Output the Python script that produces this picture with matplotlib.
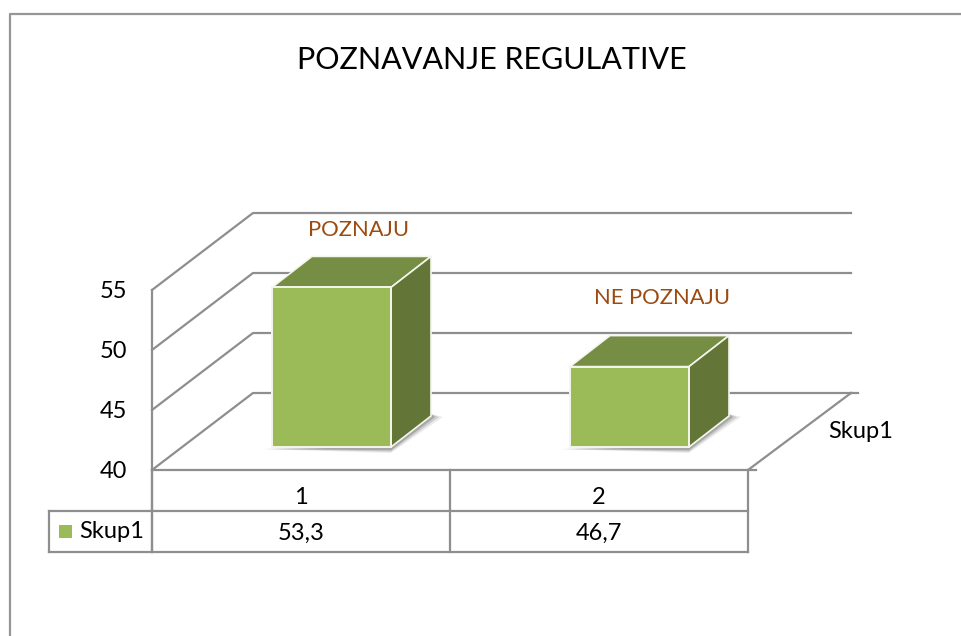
import matplotlib
matplotlib.use("Agg")
import matplotlib.pyplot as plt
from matplotlib.patches import Polygon

plt.rcParams['font.family'] = ['Lato', 'DejaVu Sans']

# data
title = "POZNAVANJE REGULATIVE"
categories = ["1", "2"]
values = [53.3, 46.7]
value_labels = ["53,3", "46,7"]
point_labels = ["POZNAJU", "NE POZNAJU"]
series_name = "Skup1"
y_ticks = [40, 45, 50, 55]

LINE = "#8e8e8e"
FRONT = "#9bbb59"
TOP = "#768d44"
SIDE = "#647637"
LABEL = "#9c4a0f"

# layout in pixels
x0, x1 = 152, 748
y_base = 470
px_per_unit = 12
floor_dx, floor_dy = 101, -77
bar_dx, bar_dy = 40, -31
bar_w = 119
bar_base = 447
table_top, table_bot = 511, 552
legend_left = 49
label_shift = [(27, -57), (33, -69)]
FS = 17


def val_y(v, base=y_base):
    return base - (v - y_ticks[0]) * px_per_unit


fig = plt.figure(figsize=(9.61, 6.36), dpi=100)
ax = fig.add_axes([0, 0, 1, 1])
ax.set_xlim(0, 961)
ax.set_ylim(636, 0)
ax.axis("off")

# outer frame
ax.plot([10, 10, 961], [636, 14, 14], color="#969696", lw=1.6, zorder=1)

ax.text(492, 60, title, ha="center", va="center", fontsize=22, color="black")

# walls and gridlines
back_x = x0 + floor_dx
for t in y_ticks:
    y = val_y(t)
    ax.plot([x0, back_x, back_x + 598], [y, y + floor_dy, y + floor_dy], color=LINE, lw=1.6, zorder=1)
    ax.text(127, y + 2, str(t), ha="right", va="center", fontsize=FS)
ax.plot([x0, x0], [val_y(y_ticks[-1]), table_bot], color=LINE, lw=1.6, zorder=1)

# floor
ax.plot([x0, x1 + 8], [y_base, y_base], color=LINE, lw=1.6, zorder=1)
ax.plot([x1, x1 + floor_dx + 2], [y_base, y_base + floor_dy], color=LINE, lw=1.6, zorder=1)
ax.plot([back_x + 598, back_x + 605], [y_base + floor_dy, y_base + floor_dy], color=LINE, lw=1.6, zorder=1)
ax.text(861, 432, series_name, ha="center", va="center", fontsize=FS)

# bars
cat_w = (x1 - x0) / len(categories)
for i, v in enumerate(values):
    left = x0 + i * cat_w + 120
    right = left + bar_w
    top = val_y(v, bar_base)
    # soft shadow
    for grow, alpha in [(12, 0.08), (8, 0.13), (4, 0.18)]:
        ax.add_patch(Polygon([(left - grow, bar_base + 2), (right, bar_base + 2 + grow / 3),
                              (right + bar_dx + grow, bar_base + bar_dy + 1),
                              (right + bar_dx, bar_base + bar_dy - 2), (right, bar_base)],
                             closed=True, fc="black", ec="none", alpha=alpha, zorder=2))
    ax.add_patch(Polygon([(left, top), (left + bar_dx, top + bar_dy), (right + bar_dx, top + bar_dy), (right, top)],
                         closed=True, fc=TOP, ec="#f4f6ec", lw=1.2, zorder=3))
    ax.add_patch(Polygon([(right, top), (right + bar_dx, top + bar_dy), (right + bar_dx, bar_base + bar_dy), (right, bar_base)],
                         closed=True, fc=SIDE, ec="#f4f6ec", lw=1.2, zorder=3))
    ax.add_patch(Polygon([(left, top), (right, top), (right, bar_base), (left, bar_base)],
                         closed=True, fc=FRONT, ec="#f4f6ec", lw=1.4, zorder=4))
    ax.text((left + right) / 2 + label_shift[i][0], top + label_shift[i][1], point_labels[i],
            ha="center", va="center", fontsize=15.8, color=LABEL, zorder=5)

# data table
for i in range(len(categories) + 1):
    x = x0 + i * cat_w
    ax.plot([x, x], [y_base, table_bot], color=LINE, lw=1.6, zorder=1)
ax.plot([legend_left, x1], [table_top, table_top], color=LINE, lw=1.6, zorder=1)
ax.plot([legend_left, x1], [table_bot, table_bot], color=LINE, lw=1.6, zorder=1)
ax.plot([legend_left, legend_left], [table_top, table_bot], color=LINE, lw=1.6, zorder=1)
for i, c in enumerate(categories):
    cx = x0 + (i + 0.5) * cat_w
    ax.text(cx, 497, c, ha="center", va="center", fontsize=FS)
    ax.text(cx, 533, value_labels[i], ha="center", va="center", fontsize=FS)

# legend key
ax.add_patch(Polygon([(59, 525), (72, 525), (72, 538), (59, 538)], closed=True, fc=FRONT, ec="none", zorder=3))
ax.text(79, 532, series_name, ha="left", va="center", fontsize=FS)

fig.savefig("out.png", dpi=100)
